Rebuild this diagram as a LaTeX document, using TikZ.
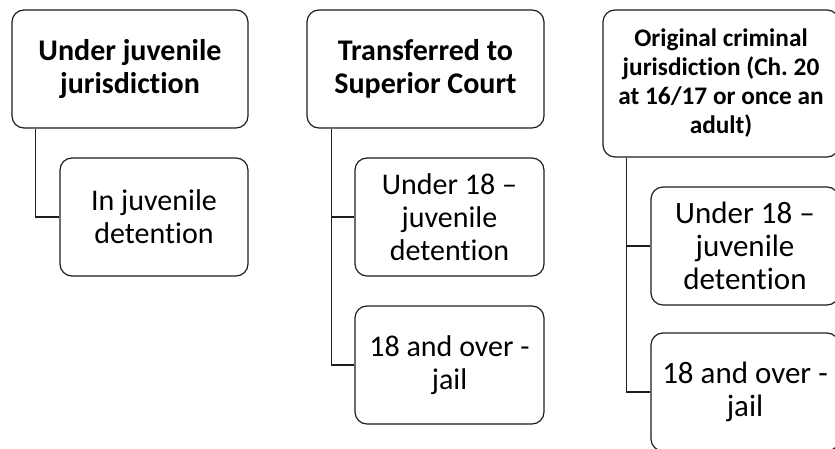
\documentclass[tikz,border=0pt]{standalone}
\usepackage{fontspec}
\setmainfont{Carlito}[Ligatures=NoCommon]
\usepackage{tikz}
\usetikzlibrary{positioning, calc}
\frenchspacing
\definecolor{boxline}{RGB}{30,30,30}
\tikzset{
  % riquadri
  box/.style={draw=boxline,line width=1.2pt,rounded corners=12pt,fill=white,
    align=center,inner sep=2pt,minimum height=118pt},
  box head/.style={box,minimum width=236pt,font=\bfseries\fontsize{30}{33}\selectfont},
  box sub/.style={box,minimum width=188pt,font=\fontsize{30}{33}\selectfont},
  % collegamenti
  connect/.style={line width=1.2pt,boxline}
}
\begin{document}
\begin{tikzpicture}[x=1pt,y=-1pt]
  \useasboundingbox (0,0) rectangle (835,449);
  \clip (0,0) rectangle (835,449);
  % prima colonna
  \node[box head] (juv) at (130,69) {Under juvenile\\jurisdiction};
  \node[box sub] (juvdet) at (154,217) {In juvenile\\detention};
  \draw[connect] ([xshift=24pt]juv.south west) |- (juvdet.west);
  % seconda colonna
  \node[box head, minimum width=237pt] (sup) at (425.5,69) {Transferred to\\Superior Court};
  \node[box sub, minimum width=189pt] (supjuv) at (449.5,217) {Under 18 --\\juvenile\\detention};
  \node[box sub, minimum width=189pt] (supjail) at (449.5,365) {18 and over -\\jail};
  \draw[connect] ([xshift=25pt]sup.south west) |- (supjuv.west);
  \draw[connect] ([xshift=25pt]sup.south west) |- (supjail.west);
  % terza colonna
  \node[box head, minimum height=147pt, font=\bfseries\fontsize{25.3}{29}\selectfont]
    (crim) at (721,83.5) {Original criminal\\jurisdiction (Ch. 20\\at 16/17 or once an\\adult)};
  \node[box sub, font=\fontsize{31}{33}\selectfont] (crimjuv) at (745,246) {Under 18 --\\juvenile\\detention};
  \node[box sub, font=\fontsize{31}{33}\selectfont] (crimjail) at (745,392) {18 and over -\\jail};
  \draw[connect] ([xshift=24pt]crim.south west) |- (crimjuv.west);
  \draw[connect] ([xshift=24pt]crim.south west) |- (crimjail.west);
\end{tikzpicture}
\end{document}
